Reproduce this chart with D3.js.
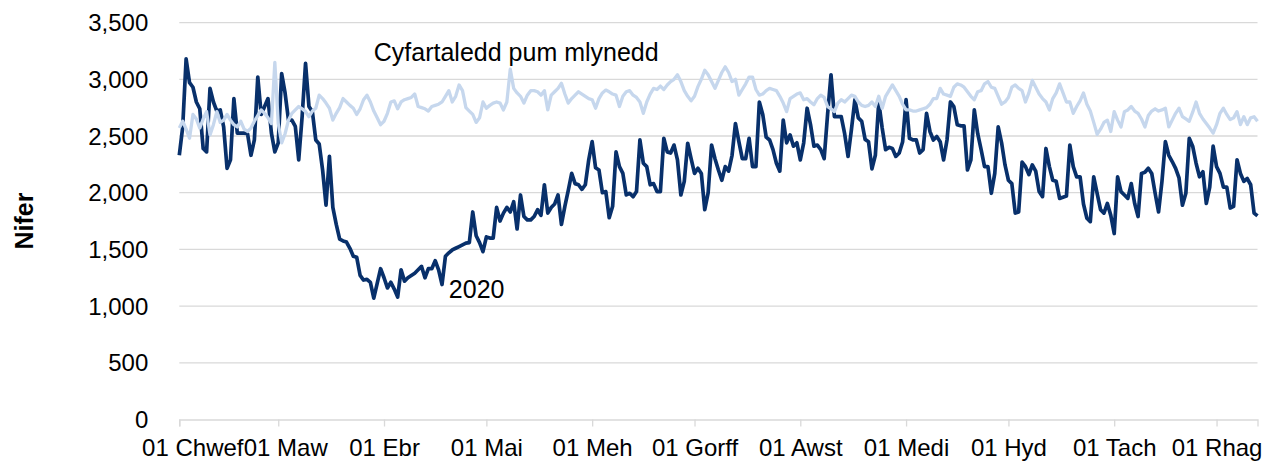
<!DOCTYPE html>
<html>
<head>
<meta charset="utf-8">
<script src="https://cdn.jsdelivr.net/npm/d3@7"></script>
<style>
  body { margin: 0; background: #fff; }
  svg text { font-family: "Liberation Sans", Arial, sans-serif; fill: #000; }
</style>
</head>
<body>
<svg id="svg1" width="1274" height="464"></svg>
<script>
// month tick labels (Welsh), Feb - Dec 2020
var monthLabels = ['01 Chwef', '01 Maw', '01 Ebr', '01 Mai', '01 Meh', '01 Gorff',
                   '01 Awst', '01 Medi', '01 Hyd', '01 Tach', '01 Rhag'];

var yTicks = [0, 500, 1000, 1500, 2000, 2500, 3000, 3500];

// daily values from 01 Feb 2020
var series2020 = [
  2330, 2580, 3180, 2970, 2930, 2800, 2740, 2390, 2360, 2920,
  2800, 2720, 2730, 2580, 2215, 2290, 2830, 2525, 2525, 2525,
  2520, 2330, 2465, 3020, 2690, 2760, 2830, 2525, 2360, 2440,
  3050, 2880, 2640, 2640, 2585, 2290, 2670, 3140, 2760, 2715,
  2465, 2430, 2200, 1890, 2320, 1870, 1720, 1590, 1575, 1565,
  1510, 1440, 1430, 1270, 1230, 1236, 1210, 1070, 1200, 1330,
  1250, 1160, 1210, 1150, 1080, 1320, 1220, 1250, 1270, 1290,
  1320, 1350, 1250, 1330, 1330, 1400, 1320, 1190, 1440, 1470,
  1495, 1510, 1525, 1540, 1555, 1560, 1830, 1620, 1560, 1480,
  1610, 1600, 1600, 1870, 1750, 1820, 1870, 1830, 1920, 1680,
  1980, 1790, 1760, 1760, 1790, 1850, 1800, 2070, 1820, 1870,
  1900, 1980, 1720, 1880, 2020, 2170, 2080, 2070, 2030, 2070,
  2290, 2450, 2220, 2200, 2000, 2010, 1780, 1880, 2360, 2230,
  2170, 1980, 1995, 1965, 2010, 2465, 2260, 2230, 2070, 2080,
  2010, 2010, 2480, 2360, 2350, 2420, 2290, 1980, 2100, 2436,
  2300, 2170, 2215, 2170, 1850, 2000, 2420, 2300, 2200, 2110,
  2230, 2190, 2330, 2610, 2450, 2300, 2300, 2480, 2230, 2230,
  2800, 2690, 2490, 2465, 2380, 2260, 2190, 2640, 2440, 2510,
  2410, 2440, 2290, 2440, 2745, 2600, 2410, 2420, 2380, 2300,
  2690, 3040, 2670, 2670, 2670, 2520, 2320, 2560, 2820, 2660,
  2630, 2470, 2450, 2210, 2330, 2800, 2570, 2380, 2400, 2390,
  2320, 2350, 2450, 2820, 2480, 2465, 2465, 2350, 2380, 2700,
  2540, 2465, 2495, 2450, 2290, 2465, 2800, 2760, 2600, 2590,
  2590, 2200, 2290, 2730, 2520, 2380, 2230, 2230, 1995, 2170,
  2580, 2440, 2245, 2110, 2080, 1820, 1830, 2270, 2230, 2160,
  2245, 2190, 2010, 1965, 2390, 2230, 2110, 2100, 1950, 1960,
  1970, 2420, 2230, 2140, 2140, 1900, 1775, 1745, 2140, 1995,
  1850, 1820, 1905, 1800, 1640, 2140, 2010, 1980, 1950, 2080,
  1905, 1790, 2170, 2180, 2215, 2170, 1995, 1830, 2100, 2450,
  2330, 2275, 2215, 2130, 1890, 1995, 2480, 2410, 2260, 2140,
  2185, 1905, 2050, 2410, 2230, 2170, 2050, 2050, 1865, 1880,
  2290, 2170, 2100, 2125, 2070, 1820, 1795
];

var seriesAvg = [
  2570, 2630, 2560, 2480, 2690, 2650, 2570, 2650, 2715, 2510,
  2600, 2715, 2620, 2640, 2690, 2640, 2600, 2580, 2630, 2560,
  2540, 2570, 2630, 2680, 2730, 2700, 2660, 2610, 3150, 2610,
  2440, 2520, 2640, 2700, 2730, 2760, 2740, 2715, 2670, 2720,
  2745, 2860, 2830, 2790, 2745, 2640, 2700, 2750, 2830, 2800,
  2770, 2745, 2690, 2740, 2820, 2860, 2800, 2720, 2660, 2600,
  2630, 2700, 2800, 2810, 2740, 2800, 2820, 2830, 2840, 2870,
  2760, 2750, 2740, 2720, 2760, 2770, 2780, 2800, 2850, 2900,
  2800, 2850, 2950, 2900, 2750, 2720, 2690, 2620, 2660, 2800,
  2745, 2770, 2790, 2800, 2790, 2730, 2800, 3090, 2920, 2880,
  2850, 2790, 2860, 2900, 2900, 2890, 2860, 2900, 2730, 2860,
  2890, 2920, 2965, 2870, 2790, 2830, 2860, 2890, 2870, 2850,
  2830, 2820, 2745, 2830, 2880, 2905, 2890, 2870, 2860, 2760,
  2850, 2890, 2900, 2860, 2840, 2800, 2700, 2800, 2870, 2920,
  2910, 2940, 2910, 2950, 2980, 3000, 3040, 2980, 2900, 2850,
  2810, 2850, 2935, 3000, 3080, 3040, 2980, 2920, 2990, 3060,
  3110, 3060, 2980, 3000, 2860, 2910, 2960, 3020, 3020, 2910,
  2860, 2870, 2900, 2920, 2910, 2900, 2850, 2790, 2715, 2830,
  2850, 2870, 2880, 2820, 2830, 2800, 2775, 2830, 2860, 2840,
  2760, 2740, 2715, 2790, 2820, 2800, 2830, 2860, 2850, 2800,
  2770, 2760, 2770, 2800, 2760, 2850, 2745, 2850, 2900, 2950,
  2900, 2850, 2780, 2730, 2730, 2720, 2720, 2730, 2740, 2750,
  2780, 2830, 2830, 2920, 2870, 2860, 2850, 2930, 2960, 2950,
  2930, 2890, 2850, 2820, 2890, 2900, 2960, 2980, 2930, 2920,
  2850, 2780, 2800, 2840, 2930, 2950, 2920, 2900, 2800, 2880,
  2990, 2930, 2870, 2830, 2800, 2730, 2830, 2880, 2960, 2880,
  2800, 2800, 2700, 2760, 2810, 2880, 2780, 2720, 2620, 2515,
  2560, 2620, 2640, 2540, 2715, 2640, 2580, 2715, 2730, 2760,
  2720, 2700, 2650, 2580, 2680, 2720, 2740, 2720, 2730, 2745,
  2580, 2640, 2700, 2745, 2670, 2650, 2630, 2710, 2800, 2700,
  2650, 2610, 2570, 2525, 2600, 2700, 2745, 2690, 2645, 2660,
  2715, 2600, 2670, 2600, 2660, 2670, 2630
];

var startDate = new Date(Date.UTC(2020, 1, 1));
var dates = series2020.map(function(v, i) { return d3.utcDay.offset(startDate, i); });
var monthTicks = d3.utcMonth.range(startDate, d3.utcDay.offset(dates[dates.length - 1], 1));

var svg = d3.select('#svg1');

var x = d3.scaleUtc()
    .domain([startDate, dates[dates.length - 1]])
    .range([179.3, 1257.5]);

var y = d3.scaleLinear()
    .domain([0, 3500])
    .range([419.5, 22.6]);

// gridlines
svg.append('g')
    .selectAll('line')
    .data(yTicks.slice(1))
    .enter()
    .append('line')
    .attr('x1', x.range()[0])
    .attr('x2', x.range()[1])
    .attr('y1', function(d) { return y(d); })
    .attr('y2', function(d) { return y(d); })
    .attr('stroke', '#d9d9d9')
    .attr('stroke-width', 1.3);

// y labels
svg.append('g')
    .selectAll('text')
    .data(yTicks)
    .enter()
    .append('text')
    .attr('x', x.range()[0] - 31)
    .attr('y', function(d) { return y(d); })
    .attr('dy', '0.36em')
    .attr('text-anchor', 'end')
    .style('font-size', '24px')
    .text(d3.format(','));

// x axis
var xAxis = d3.axisBottom(x)
    .tickValues(monthTicks)
    .tickSize(7)
    .tickFormat(function(d, i) { return monthLabels[i]; });

var gx = svg.append('g')
    .attr('transform', 'translate(0,' + y(0) + ')')
    .call(xAxis);

gx.select('.domain').attr('stroke', '#d9d9d9').attr('stroke-width', 1.3);
gx.selectAll('.tick line').attr('stroke', '#d9d9d9').attr('stroke-width', 1.3);
gx.selectAll('.tick text')
    .attr('y', 0)
    .attr('dy', 36)
    .attr('dx', function(d, i) { return i === 0 ? 13 : (i === 1 ? 7 : 0); })
    .style('font-size', '24px')
    .style('font-family', '"Liberation Sans", Arial, sans-serif')
    .attr('fill', '#000');

var line = d3.line()
    .x(function(d, i) { return x(dates[i]); })
    .y(function(d) { return y(d); });

svg.append('path')
    .datum(series2020)
    .attr('d', line)
    .attr('fill', 'none')
    .attr('stroke', '#08306b')
    .attr('stroke-width', 3.7)
    .attr('stroke-linejoin', 'round');

svg.append('path')
    .datum(seriesAvg)
    .attr('d', line)
    .attr('fill', 'none')
    .attr('stroke', '#c6d7ed')
    .attr('stroke-width', 3.3)
    .attr('stroke-linejoin', 'round');

// series labels
svg.append('text')
    .attr('x', x(d3.utcDay.offset(startDate, 57)))
    .attr('y', y(3160))
    .style('font-size', '25px')
    .text('Cyfartaledd pum mlynedd');

svg.append('text')
    .attr('x', x(d3.utcDay.offset(startDate, 79)))
    .attr('y', y(1072))
    .style('font-size', '25px')
    .text('2020');

// axis title
svg.append('text')
    .attr('transform', 'translate(33,221) rotate(-90)')
    .attr('text-anchor', 'middle')
    .style('font-size', '25px')
    .style('font-weight', 'bold')
    .text('Nifer');
</script>
</body>
</html>
